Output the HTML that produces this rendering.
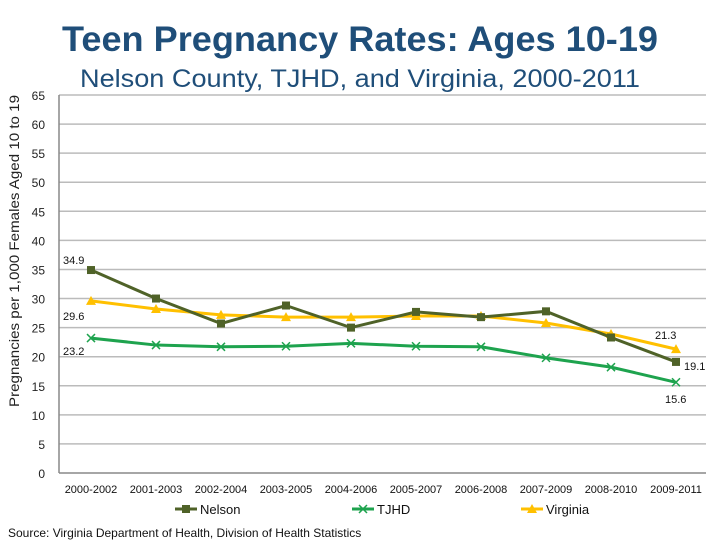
<!DOCTYPE html>
<html><head><meta charset="utf-8"><style>
body{margin:0;background:#fff;font-family:"Liberation Sans",sans-serif}
svg text{font-family:"Liberation Sans",sans-serif}
</style></head><body>
<svg width="720" height="540" id="c">
<text x="62" y="51" textLength="596" lengthAdjust="spacingAndGlyphs" font-size="35" font-weight="bold" fill="#1f4e79">Teen Pregnancy Rates: Ages 10-19</text>
<text x="80" y="87" textLength="560" lengthAdjust="spacingAndGlyphs" font-size="25" fill="#1f4e79">Nelson County, TJHD, and Virginia, 2000-2011</text>
<text transform="translate(19,251) rotate(-90)" text-anchor="middle" textLength="312" lengthAdjust="spacingAndGlyphs" font-size="14" fill="#222">Pregnancies per 1,000 Females Aged 10 to 19</text>
<text x="8" y="537" font-size="12" fill="#111">Source: Virginia Department of Health, Division of Health Statistics</text>
<g id="g"></g>
</svg>
<script>
const categories=["2000-2002","2001-2003","2002-2004","2003-2005","2004-2006","2005-2007","2006-2008","2007-2009","2008-2010","2009-2011"];
const nelson=[34.9,30.0,25.7,28.8,25.0,27.7,26.8,27.8,23.3,19.1];
const tjhd=[23.2,22.0,21.7,21.8,22.3,21.8,21.7,19.8,18.2,15.6];
const virginia=[29.6,28.2,27.2,26.8,26.8,27.0,27.0,25.8,23.9,21.3];
const yTicks=[0,5,10,15,20,25,30,35,40,45,50,55,60,65];
const NS="http://www.w3.org/2000/svg";
const g=document.getElementById('g');
const y=v=>473-v*(378/65);
const x=i=>91+i*65;
function mk(t,a,p){const e=document.createElementNS(NS,t);for(const k in a)e.setAttribute(k,a[k]);(p||g).appendChild(e);return e;}
yTicks.forEach(v=>{
 const l=mk('line',{x1:59,x2:706,y1:y(v),y2:y(v),stroke:v===0?'#888':'#bbb','stroke-width':1.5});
 
 
 const t=mk('text',{x:45,y:y(v)+5,'text-anchor':'end','font-size':12,fill:'#222'});t.textContent=v;
 
 
});
const ax=mk('line',{x1:59,x2:59,y1:95,y2:473,stroke:'#888','stroke-width':1.5});


categories.forEach((c,i)=>{
 const t=mk('text',{x:x(i),y:493,'text-anchor':'middle','font-size':11,fill:'#111'});t.textContent=c;
 
 
});
function series(vals,color,marker,name){
 const pl=mk('polyline',{points:vals.map((v,i)=>x(i)+','+y(v)).join(' '),fill:'none',stroke:color,'stroke-width':3});
 
 
 vals.forEach((v,i)=>drawMarker(x(i),y(v),color,marker,name));
}
function drawMarker(cx,cy,color,marker,name){
 let m;
 if(marker==='sq')m=mk('rect',{x:cx-4,y:cy-4,width:8,height:8,fill:color});
 else if(marker==='tri')m=mk('polygon',{points:`${cx},${cy-5} ${cx-5},${cy+4} ${cx+5},${cy+4}`,fill:color});
 else m=mk('path',{d:`M${cx-4} ${cy-4}L${cx+4} ${cy+4}M${cx-4} ${cy+4}L${cx+4} ${cy-4}`,stroke:color,'stroke-width':1.5});
 
 
}
series(tjhd,'#1ea34e','x','tjhd');
series(virginia,'#ffc000','tri','virginia');
series(nelson,'#4f6228','sq','nelson');
function lab(txt,px,py){const t=mk('text',{x:px,y:py,'font-size':11,fill:'#111'});t.textContent=txt;
 
 }
lab(nelson[0],63,264);lab(virginia[0],63,320);lab(tjhd[0],63,355);
lab(virginia[9],655,339);lab(nelson[9],684,370);lab(tjhd[9],665,403);
[['Nelson','#4f6228','sq',175],['TJHD','#1ea34e','x',352],['Virginia','#ffc000','tri',521]].forEach(([n,c,mkr,lx])=>{
 const l=mk('line',{x1:lx,x2:lx+22,y1:509,y2:509,stroke:c,'stroke-width':3});
 
 
 drawMarker(lx+11,509,c,mkr,'legend');
 const t=mk('text',{x:lx+25,y:514,'font-size':13,fill:'#111'});t.textContent=n;
 
 
});
</script>
</body></html>
